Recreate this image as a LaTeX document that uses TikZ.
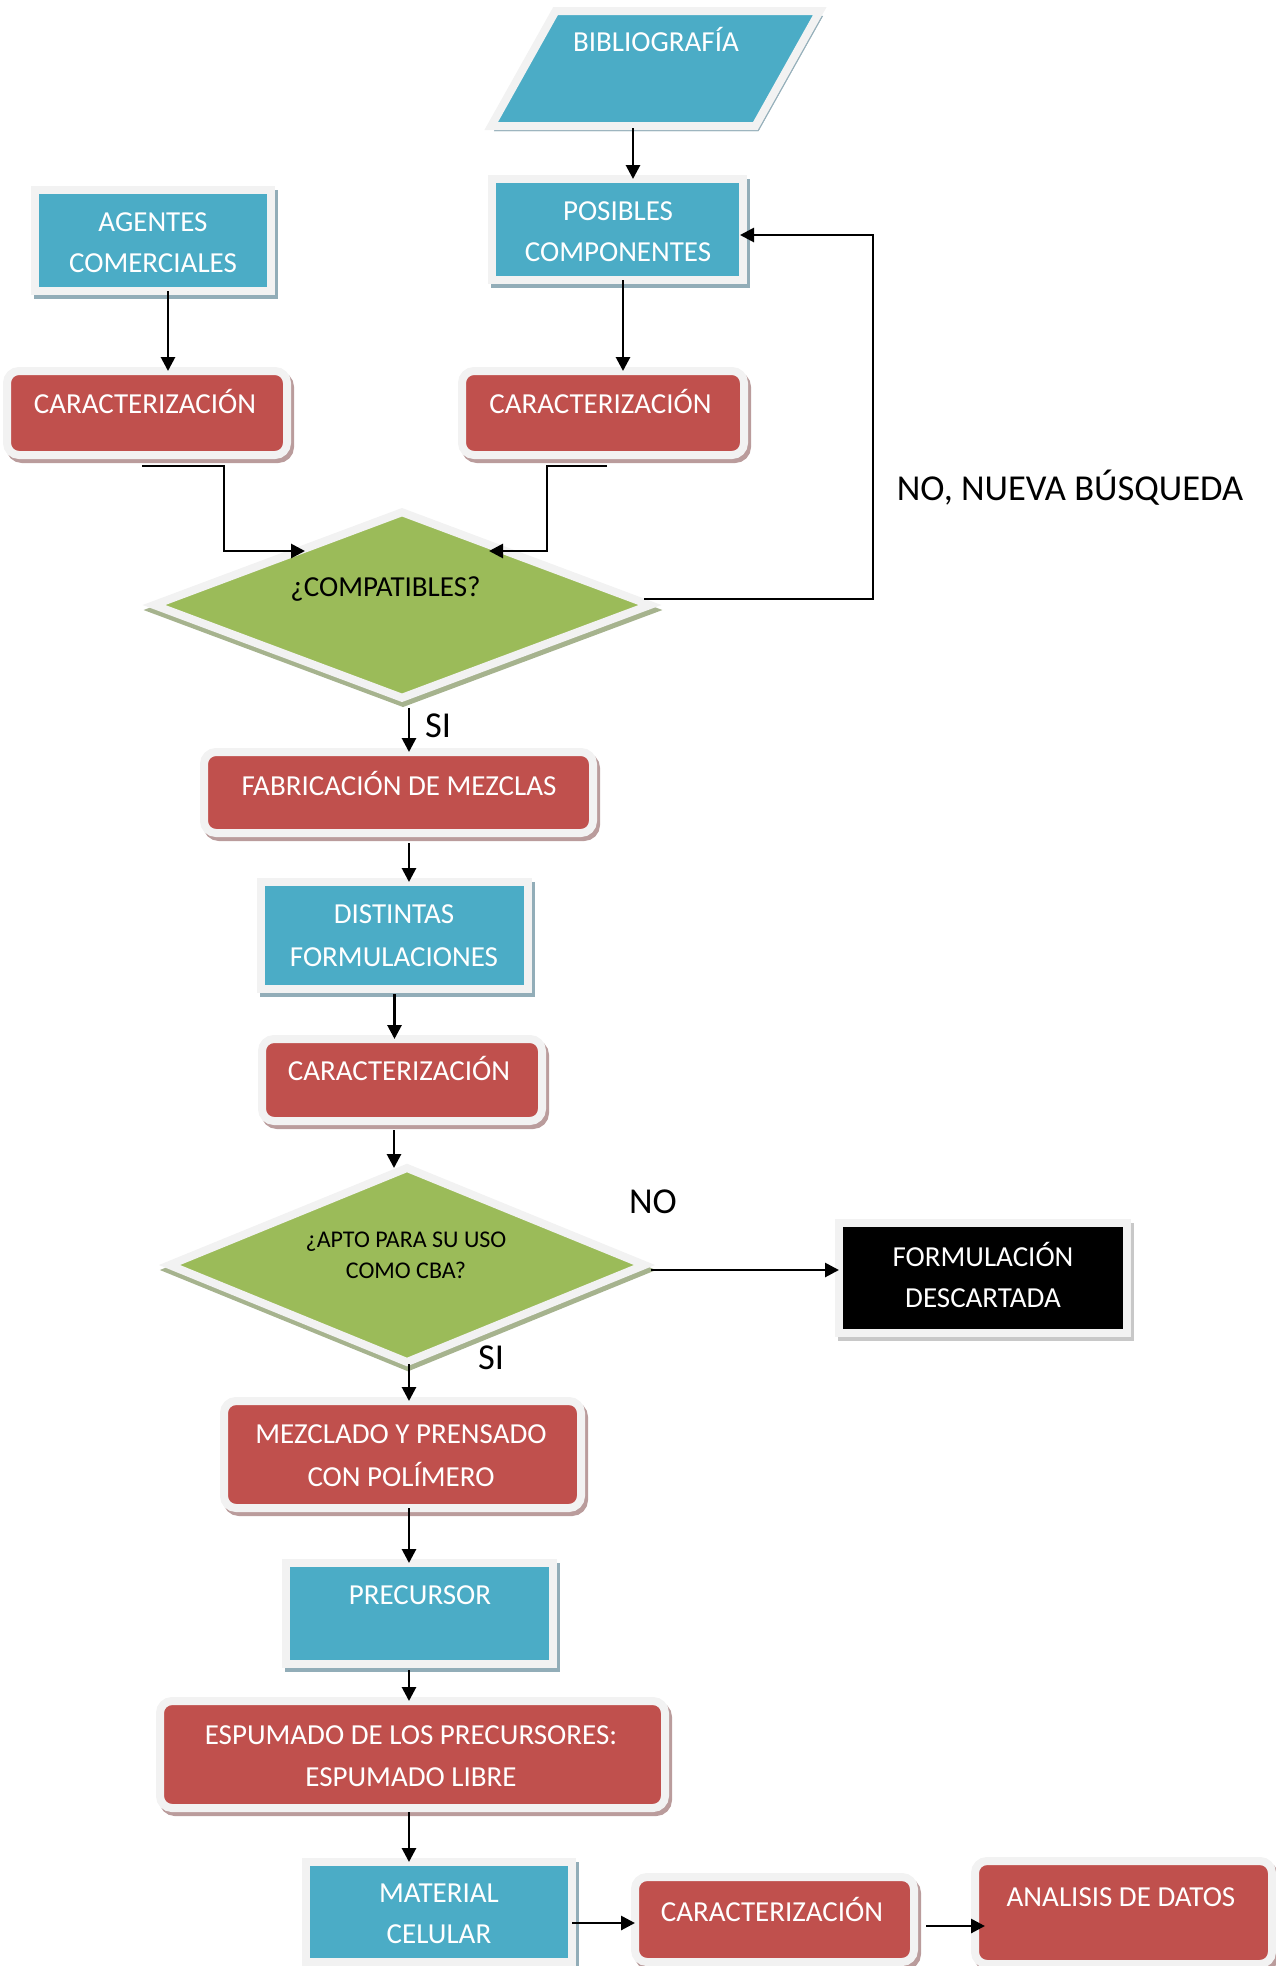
\documentclass[tikz,border=0pt]{standalone}
\usepackage{fontspec}
\setmainfont{Carlito}
\usetikzlibrary{shapes.geometric,arrows.meta}
\definecolor{cblue}{HTML}{4BACC6}
\definecolor{cred}{HTML}{C0504D}
\definecolor{cgreen}{HTML}{9BBB59}
\definecolor{bord}{HTML}{F2F2F2}
\definecolor{shblue}{HTML}{92ADB8}
\definecolor{shred}{HTML}{BA9C9C}
\definecolor{shgreen}{HTML}{A6B38E}
\definecolor{shgray}{HTML}{C8C8C8}
\tikzset{
  basebox/.style={line width=8pt, draw=bord, inner sep=0pt, outer sep=0pt, line join=miter},
  bluebox/.style={basebox, rectangle, fill=cblue,
    preaction={draw=shblue, fill=shblue, transform canvas={shift={(3pt,-4pt)}}}},
  redbox/.style={basebox, rectangle, rounded corners=12pt, fill=cred,
    preaction={draw=shred, fill=shred, transform canvas={shift={(3pt,-4pt)}}}},
  greendia/.style={basebox, diamond, fill=cgreen,
    preaction={draw=shgreen, fill=shgreen, transform canvas={shift={(1pt,-5pt)}}}},
  blackbox/.style={basebox, rectangle, fill=black,
    preaction={draw=shgray, fill=shgray, transform canvas={shift={(3pt,-4pt)}}}},
  pgram/.style={line width=8pt, draw=bord, fill=cblue, line join=miter,
    preaction={draw=shblue, fill=shblue, transform canvas={shift={(3pt,-5pt)}}}},
  wt/.style={text=white, font=\fontsize{29}{35}\selectfont, anchor=base, inner sep=0pt},
  bt/.style={text=black, font=\fontsize{29}{35}\selectfont, anchor=base, inner sep=0pt},
  st/.style={text=black, font=\fontsize{24}{29}\selectfont, anchor=base, inner sep=0pt},
  lab/.style={text=black, font=\fontsize{36.5}{44}\selectfont, anchor=base, inner sep=0pt},
  arr/.style={line width=2.8pt, -{Triangle[length=14pt,width=14pt]}}
}
\begin{document}
\begin{tikzpicture}[x=1pt,y=-1pt]
\useasboundingbox (0,0) rectangle (1275,1966);

% shapes
\draw[pgram] (555.6,11) -- (819.8,11) -- (755.4,126) -- (491.2,126) -- cycle;
\coordinate (bibbot) at (633,128);
\node[bluebox, minimum width=236pt, minimum height=101pt] (ag) at (153,240.5) {};
\node[bluebox, minimum width=251pt, minimum height=101pt] (pos) at (617.5,229.5) {};
\node[redbox, minimum width=280pt, minimum height=84pt] (c1) at (147,413) {};
\node[redbox, minimum width=282pt, minimum height=84pt] (c2) at (603,413) {};
\node[greendia, minimum width=496pt, minimum height=185.5pt] (cmp) at (402,605) {};
\node[redbox, minimum width=389pt, minimum height=81pt] (fab) at (398.5,792.5) {};
\node[bluebox, minimum width=267pt, minimum height=107pt] (dist) at (394.5,935.5) {};
\node[redbox, minimum width=280pt, minimum height=82pt] (c3) at (402,1080) {};
\node[greendia, minimum width=475pt, minimum height=194pt] (apt) at (407,1265) {};
\node[blackbox, minimum width=288pt, minimum height=110pt] (desc) at (983,1278) {};
\node[redbox, minimum width=357pt, minimum height=107pt] (mez) at (402.5,1454.5) {};
\node[bluebox, minimum width=267pt, minimum height=101pt] (prec) at (419.5,1613.5) {};
\node[redbox, minimum width=505pt, minimum height=107pt] (esp) at (412.5,1754.5) {};
\node[bluebox, minimum width=266pt, minimum height=100pt] (mat) at (439,1912) {};
\node[redbox, minimum width=279pt, minimum height=85pt] (c4) at (774.5,1919.5) {};
\node[redbox, minimum width=297pt, minimum height=103pt] (ana) at (1123.5,1912.5) {};

% texts
\node[wt] (tbib) at (656,51.8) {BIBLIOGRAFÍA};
\node[wt] (tag1) at (153,231.8) {AGENTES};
\node[wt] (tag2) at (153,272.8) {COMERCIALES};
\node[wt] (tpos1) at (618,220.8) {POSIBLES};
\node[wt] (tpos2) at (618,261.8) {COMPONENTES};
\node[wt] (tc1) at (145,413.3) {CARACTERIZACIÓN};
\node[wt] (tc2) at (600.5,413.3) {CARACTERIZACIÓN};
\node[bt] (tcmp) at (385.5,596.3) {¿COMPATIBLES?};
\node[wt] (tfab) at (399,795.3) {FABRICACIÓN DE MEZCLAS};
\node[wt] (tdist1) at (394,923.3) {DISTINTAS};
\node[wt] (tdist2) at (394,966.3) {FORMULACIONES};
\node[wt] (tc3) at (399,1080.3) {CARACTERIZACIÓN};
\node[st] (tapt1) at (406,1247.7) {¿APTO PARA SU USO};
\node[st] (tapt2) at (406,1278.5) {COMO CBA?};
\node[wt] (tdesc1) at (983,1266.3) {FORMULACIÓN};
\node[wt] (tdesc2) at (983,1307.3) {DESCARTADA};
\node[wt] (tmez1) at (401,1443.3) {MEZCLADO Y PRENSADO};
\node[wt] (tmez2) at (401,1486.3) {CON POLÍMERO};
\node[wt] (tprec) at (420,1604.3) {PRECURSOR};
\node[wt] (tesp1) at (411,1744.3) {ESPUMADO DE LOS PRECURSORES:};
\node[wt] (tesp2) at (411,1786.3) {ESPUMADO LIBRE};
\node[wt] (tmat1) at (439,1902.3) {MATERIAL};
\node[wt] (tmat2) at (439,1943.3) {CELULAR};
\node[wt] (tc4) at (772,1921.3) {CARACTERIZACIÓN};
\node[wt] (tana) at (1121,1906.3) {ANALISIS DE DATOS};

% labels
\node[lab] (lnuevo) at (1070,500.6) {NO, NUEVA BÚSQUEDA};
\node[lab] (lsi1) at (438,737.6) {SI};
\node[lab] (lno) at (653,1213.6) {NO};
\node[lab] (lsi2) at (491,1369.6) {SI};

% connectors
\path (cmp.center) ++(-97,-54) coordinate (cmpL) ++(184,0) coordinate (cmpR);
\draw[arr] (bibbot) -- (bibbot |- pos.north);
\draw[arr] ([xshift=15pt]ag.south) -- ([xshift=15pt]ag.south |- c1.north);
\draw[arr] ([xshift=5.5pt]pos.south) -- ([xshift=5.5pt]pos.south |- c2.north);
\draw[arr] ([xshift=-5pt,yshift=-11pt]c1.south) -- ++(82,0) |- (cmpL);
\draw[arr] ([xshift=4pt,yshift=-11pt]c2.south) -- ++(-60,0) |- (cmpR);
\draw[arr] ([xshift=-6pt,yshift=6pt]cmp.east) -- ++(229,0) |- ([xshift=-3pt,yshift=-5.5pt]pos.east);
\draw[arr] ([xshift=7pt,yshift=-10pt]cmp.south) -- ([xshift=7pt]cmp.south |- fab.north);
\draw[arr] ([xshift=10.5pt,yshift=-10pt]fab.south) -- ([xshift=10.5pt]fab.south |- dist.north);
\draw[arr] ([yshift=-5pt]dist.south) -- (dist.south |- c3.north);
\draw[arr] ([xshift=-8pt,yshift=-9pt]c3.south) -- ([xshift=-8pt]c3.south |- apt.north);
\draw[arr] ([xshift=6pt,yshift=-5pt]apt.east) -- ([yshift=-5pt]apt.east -| desc.west);
\draw[arr] ([xshift=2pt,yshift=-2pt]apt.south) -- ([xshift=2pt]apt.south |- mez.north);
\draw[arr] ([xshift=6.5pt]mez.south) -- ([xshift=6.5pt]mez.south |- prec.north);
\draw[arr] ([xshift=-10.5pt,yshift=-6pt]prec.south) -- ([xshift=-10.5pt]prec.south |- esp.north);
\draw[arr] ([xshift=-3.5pt,yshift=-4pt]esp.south) -- ([xshift=-3.5pt]esp.south |- mat.north);
\draw[arr] ([yshift=-11pt]mat.east) -- ([yshift=-11pt]mat.east -| c4.west);
\draw[arr, shorten >=-10pt] ([xshift=12pt,yshift=-6.5pt]c4.east) -- ([yshift=-6.5pt]c4.east -| ana.west);
\end{tikzpicture}
\end{document}
